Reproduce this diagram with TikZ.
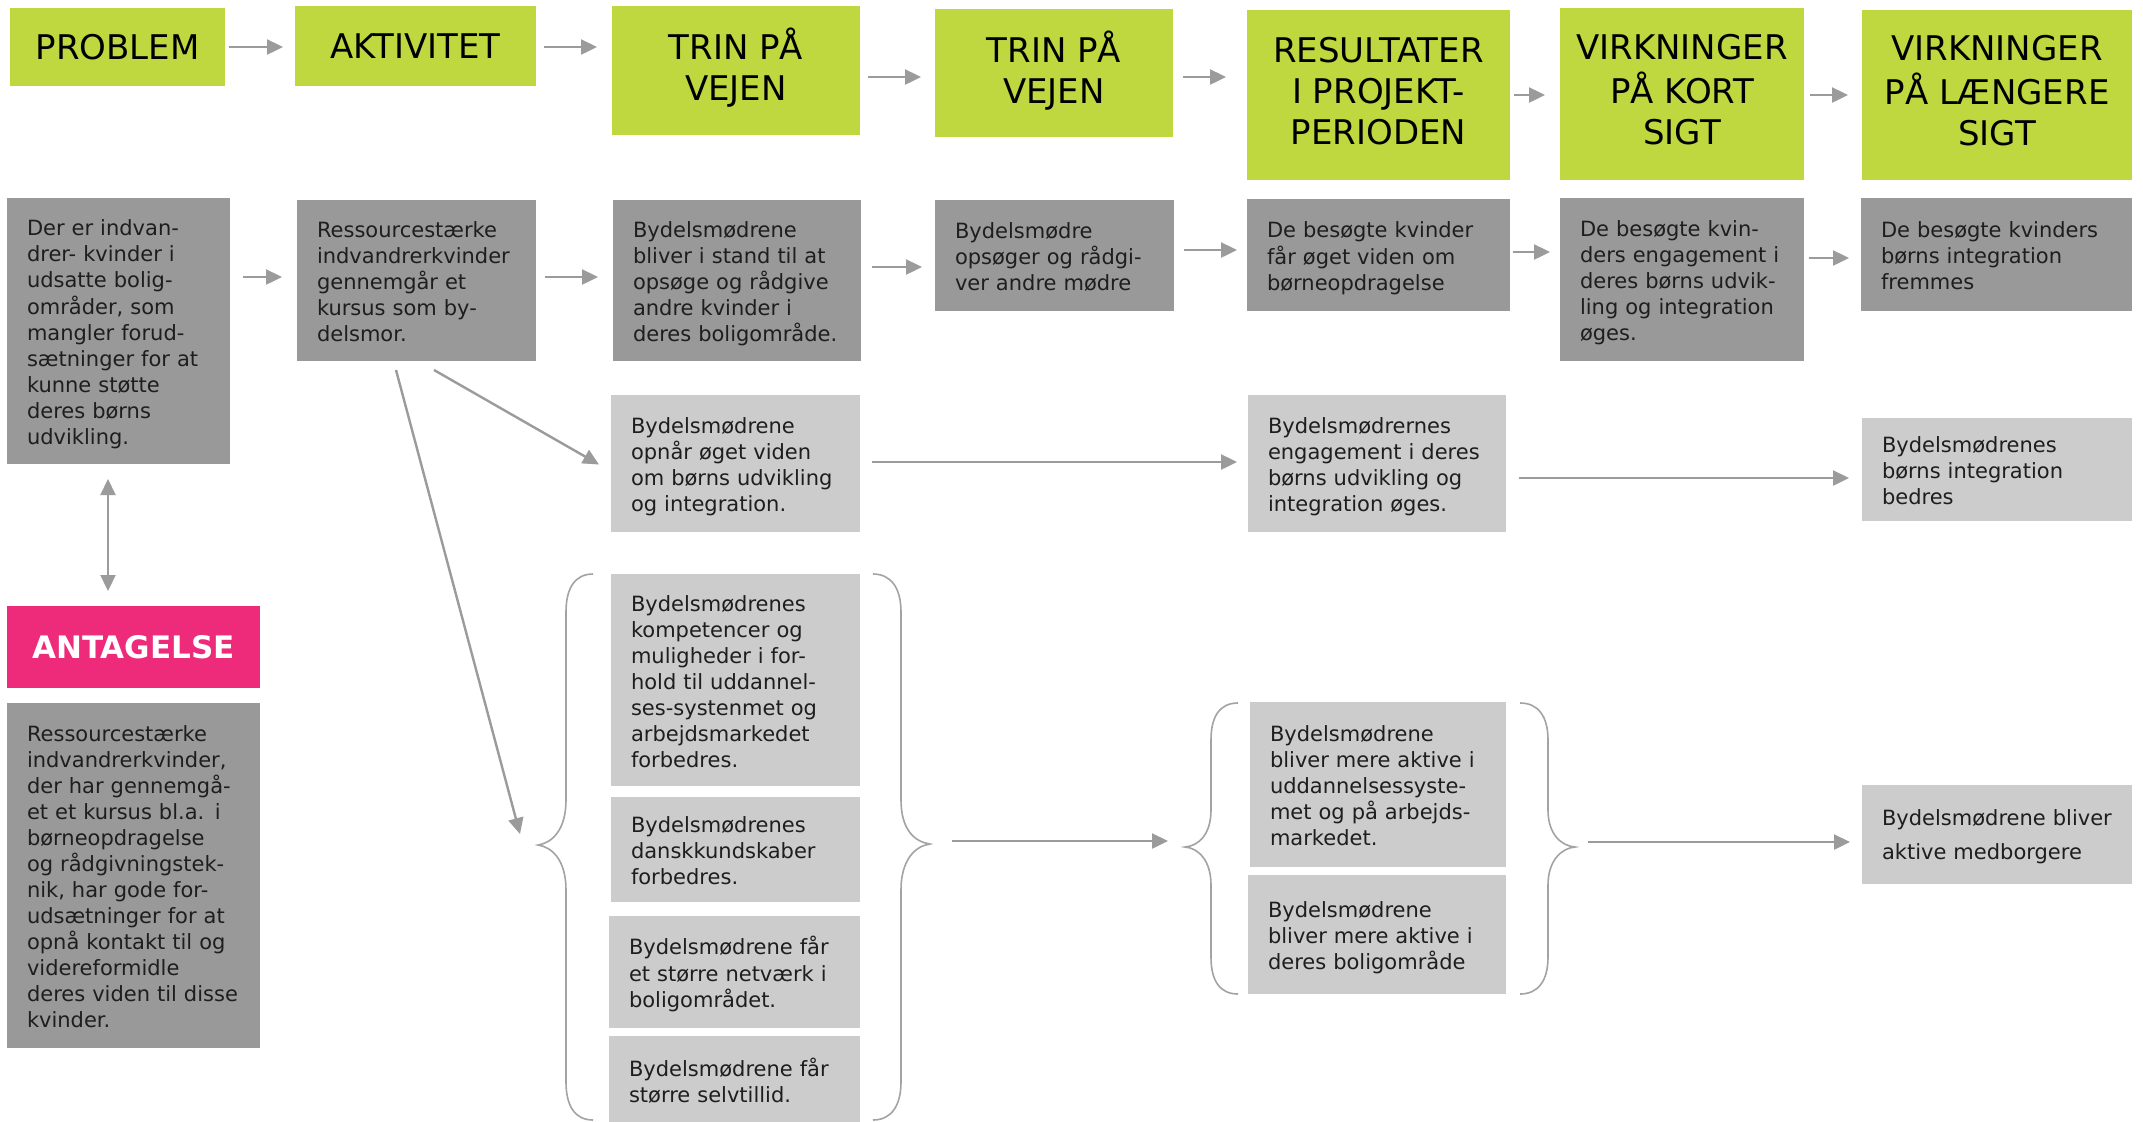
\documentclass[tikz,border=0pt]{standalone}
\usepackage{fontspec}
\setmainfont{DejaVu Sans}
\usetikzlibrary{arrows.meta,calc}
\definecolor{limec}{HTML}{C0D83F}
\definecolor{dkc}{HTML}{999999}
\definecolor{ltc}{HTML}{CCCCCC}
\definecolor{pinkc}{HTML}{EE2A7B}
\definecolor{arrgray}{HTML}{9B9B9B}
\definecolor{bracec}{HTML}{A3A3A3}
\definecolor{txtc}{HTML}{1E1E1E}
\newcommand\bodyfont{\fontsize{10.5}{13}\selectfont}
\newcommand\hdrfont{\fontsize{17}{20.5}\selectfont}
\newcommand\antfont{\bfseries\fontsize{15.5}{18}\selectfont}
\newcommand\tl[1]{\begin{tabular}{@{}l@{}}\rule{0pt}{13pt}#1\end{tabular}}
\newcommand\tc[1]{\begin{tabular}{@{}c@{}}#1\end{tabular}}
\newcommand\mkbox[7]{%
  \pgfmathsetmacro\pbw{(#5-#3)/2}%
  \pgfmathsetmacro\pbh{(#6-#4)/2}%
  \pgfmathsetmacro\pbt{(#5-#3)/2-20}%
  \node[#2,minimum width=\pbw pt,minimum height=\pbh pt,text width=\pbt pt,anchor=north west] (#1) at (#3,#4) {#7};%
}
\newcommand\mkhdr[7]{%
  \pgfmathsetmacro\pbw{(#5-#3)/2}%
  \pgfmathsetmacro\pbh{(#6-#4)/2}%
  \node[#2,minimum width=\pbw pt,minimum height=\pbh pt,anchor=north west] (#1) at (#3,#4) {#7};%
}
\tikzset{
  basebox/.style={rectangle, draw=none, inner xsep=10pt, inner ysep=0pt, outer sep=0pt},
  hdrbox/.style={basebox, inner xsep=2pt, fill=limec, align=center, font=\hdrfont, text=black},
  dkbox/.style={basebox, fill=dkc, align=left, font=\bodyfont, text=txtc},
  ltbox/.style={basebox, fill=ltc, align=left, font=\bodyfont, text=txtc},
  antbox/.style={basebox, inner xsep=2pt, fill=pinkc, align=center, font=\antfont, text=white},
  arr/.style={draw=arrgray, line width=1.2pt, -{Triangle[length=8pt,width=7.5pt]}},
  darr/.style={draw=arrgray, line width=1.1pt, {Triangle[length=8pt,width=7.5pt]}-{Triangle[length=8pt,width=7.5pt]}},
  bracel/.style={draw=bracec, line width=0.8pt},
}
\begin{document}
\begin{tikzpicture}[x=0.5pt,y=-0.5pt]
\useasboundingbox (0,0) rectangle (2143,1121);
\fill[white] (0,0) rectangle (2143,1121);

% header row
\mkhdr{hProb}{hdrbox}{10}{8}{225}{86}{PROBLEM}
\mkhdr{hAkt}{hdrbox}{295}{6}{536}{86}{AKTIVITET}
\mkhdr{hTrinA}{hdrbox}{612}{6}{860}{135}{\tc{TRIN PÅ\\VEJEN}}
\mkhdr{hTrinB}{hdrbox}{935}{9}{1173}{137}{\tc{TRIN PÅ\\VEJEN}}
\mkhdr{hRes}{hdrbox}{1247}{10}{1510}{180}{\tc{RESULTATER\\I PROJEKT-\\PERIODEN}}
\mkhdr{hVK}{hdrbox}{1560}{8}{1804}{180}{\tc{VIRKNINGER\\PÅ KORT\\SIGT}}
\mkhdr{hVL}{hdrbox}{1862}{10}{2132}{180}{\tc{VIRKNINGER\\PÅ LÆNGERE\\SIGT}}

% dark row
\mkbox{dProb}{dkbox}{7}{198}{230}{464}{\tl{Der er indvan-\\drer- kvinder i\\udsatte bolig-\\områder, som\\mangler forud-\\sætninger for at\\kunne støtte\\deres børns\\udvikling.}}
\mkbox{dAkt}{dkbox}{297}{200}{536}{361}{\tl{Ressourcestærke\\indvandrerkvinder\\gennemgår et\\kursus som by-\\delsmor.}}
\mkbox{dTrinA}{dkbox}{613}{200}{861}{361}{\tl{Bydelsmødrene\\bliver i stand til at\\opsøge og rådgive\\andre kvinder i\\deres boligområde.}}
\mkbox{dTrinB}{dkbox}{935}{200}{1174}{311}{\tl{Bydelsmødre\\opsøger og rådgi-\\ver andre mødre}}
\mkbox{dRes}{dkbox}{1247}{199}{1510}{311}{\tl{De besøgte kvinder\\får øget viden om\\børneopdragelse}}
\mkbox{dVK}{dkbox}{1560}{198}{1804}{361}{\tl{De besøgte kvin-\\ders engagement i\\deres børns udvik-\\ling og integration\\øges.}}
\mkbox{dVL}{dkbox}{1861}{198}{2132}{311}{\tl{De besøgte kvinders\\børns integration\\fremmes}}

% light row
\mkbox{lTrinA}{ltbox}{611}{395}{860}{532}{\tl{Bydelsmødrene\\opnår øget viden\\om børns udvikling\\og integration.}}
\mkbox{lRes}{ltbox}{1248}{395}{1506}{532}{\tl{Bydelsmødrernes\\engagement i deres\\børns udvikling og\\integration øges.}}
\mkbox{lVL}{ltbox}{1862}{418}{2132}{521}{\tl{Bydelsmødrenes\\børns integration\\bedres}}

% antagelse
\mkhdr{hAnt}{antbox}{7}{606}{260}{688}{ANTAGELSE}
\mkbox{dAnt}{dkbox}{7}{703}{260}{1048}{\tl{Ressourcestærke\\indvandrerkvinder,\\der har gennemgå-\\et et kursus bl.a. i\\børneopdragelse\\og rådgivningstek-\\nik, har gode for-\\udsætninger for at\\opnå kontakt til og\\videreformidle\\deres viden til disse\\kvinder.}}

% group 1
\mkbox{gA}{ltbox}{611}{574}{860}{786}{\tl{Bydelsmødrenes\\kompetencer og\\muligheder i for-\\hold til uddannel-\\ses-systenmet og\\arbejdsmarkedet\\forbedres.}}
\mkbox{gB}{ltbox}{611}{797}{860}{902}{\tl{Bydelsmødrenes\\danskkundskaber\\forbedres.}}
\mkbox{gC}{ltbox}{609}{916}{860}{1028}{\tl{Bydelsmødrene får\\et større netværk i\\boligområdet.}}
\mkbox{gD}{ltbox}{609}{1036}{860}{1124}{\tl{Bydelsmødrene får\\større selvtillid.}}

% group 2
\mkbox{gE}{ltbox}{1250}{702}{1506}{867}{\tl{Bydelsmødrene\\bliver mere aktive i\\uddannelsessyste-\\met og på arbejds-\\markedet.}}
\mkbox{gF}{ltbox}{1248}{875}{1506}{994}{\tl{Bydelsmødrene\\bliver mere aktive i\\deres boligområde}}
\mkbox{fin}{ltbox}{1862}{785}{2132}{884}{{\fontsize{10.5}{17}\selectfont\tl{Bydelsmødrene bliver\\aktive medborgere}}}

% braces
\coordinate (b1l) at (538,845);
\coordinate (b1r) at (930,844);
\coordinate (b2l) at (1185,847);
\coordinate (b2r) at (1575,847);
\draw[bracel] (593,574) .. controls (575,574) and (566,588) .. (566,612) -- (566,800)
  .. controls (566,830) and (552,843) .. (b1l) .. controls (552,847) and (566,860) .. (566,890)
  -- (566,1082) .. controls (566,1106) and (575,1120) .. (593,1120);
\draw[bracel] (873,574) .. controls (891,574) and (901,588) .. (901,612) -- (901,800)
  .. controls (901,830) and (915,842) .. (b1r) .. controls (915,846) and (901,860) .. (901,890)
  -- (901,1082) .. controls (901,1106) and (891,1120) .. (873,1120);
\draw[bracel] (1238,703) .. controls (1220,703) and (1211,716) .. (1211,740) -- (1211,810)
  .. controls (1211,835) and (1198,846) .. (b2l) .. controls (1198,848) and (1211,860) .. (1211,885)
  -- (1211,957) .. controls (1211,981) and (1220,994) .. (1238,994);
\draw[bracel] (1520,703) .. controls (1538,703) and (1548,716) .. (1548,740) -- (1548,810)
  .. controls (1548,835) and (1562,846) .. (b2r) .. controls (1562,848) and (1548,860) .. (1548,885)
  -- (1548,957) .. controls (1548,981) and (1538,994) .. (1520,994);

% header arrows
\draw[arr, shorten <=2pt, shorten >=6pt] (hProb.east |- 0,47) -- (hAkt.west |- 0,47);
\draw[arr, shorten <=4pt, shorten >=7.5pt] (hAkt.east |- 0,47) -- (hTrinA.west |- 0,47);
\draw[arr, shorten <=4pt, shorten >=7pt] (hTrinA.east |- 0,77) -- (hTrinB.west |- 0,77);
\draw[arr, shorten <=5pt, shorten >=10.5pt] (hTrinB.east |- 0,77) -- (hRes.west |- 0,77);
\draw[arr, shorten <=2pt, shorten >=7.5pt] (hRes.east |- 0,95) -- (hVK.west |- 0,95);
\draw[arr, shorten <=3pt, shorten >=7pt] (hVK.east |- 0,95) -- (hVL.west |- 0,95);

% dark row arrows
\draw[arr, shorten <=6.5pt, shorten >=7.5pt] (dProb.east |- 0,277) -- (dAkt.west |- 0,277);
\draw[arr, shorten <=4.5pt, shorten >=7.5pt] (dAkt.east |- 0,277) -- (dTrinA.west |- 0,277);
\draw[arr, shorten <=5.5pt, shorten >=6.5pt] (dTrinA.east |- 0,267) -- (dTrinB.west |- 0,267);
\draw[arr, shorten <=5pt, shorten >=5pt] (dTrinB.east |- 0,250) -- (dRes.west |- 0,250);
\draw[arr, shorten <=1.5pt, shorten >=5pt] (dRes.east |- 0,252) -- (dVK.west |- 0,252);
\draw[arr, shorten <=2.5pt, shorten >=6pt] (dVK.east |- 0,258) -- (dVL.west |- 0,258);

% light row and diagonals
\draw[arr] ($(dAkt.south west)+(137,9)$) -- ($(lTrinA.west)+(-12,1)$);
\draw[arr] ($(dAkt.south west)+(99,9)$) -- ($(b1l)+(-18,-11)$);
\draw[arr, shorten <=6pt, shorten >=5.5pt] (lTrinA.east |- 0,462) -- (lRes.west |- 0,462);
\draw[arr, shorten <=6.5pt, shorten >=6.5pt] (lRes.east |- 0,478) -- (lVL.west |- 0,478);

% brace arrows
\draw[arr, shorten <=11pt, shorten >=8.5pt] (b1r |- 0,841) -- (b2l |- 0,841);
\draw[arr, shorten <=6.5pt, shorten >=6pt] (b2r |- 0,842) -- (fin.west |- 0,842);

% problem <-> antagelse
\draw[darr, shorten <=7.5pt, shorten >=7.5pt] (dProb.south -| 108,0) -- (hAnt.north -| 108,0);
\end{tikzpicture}
\end{document}
